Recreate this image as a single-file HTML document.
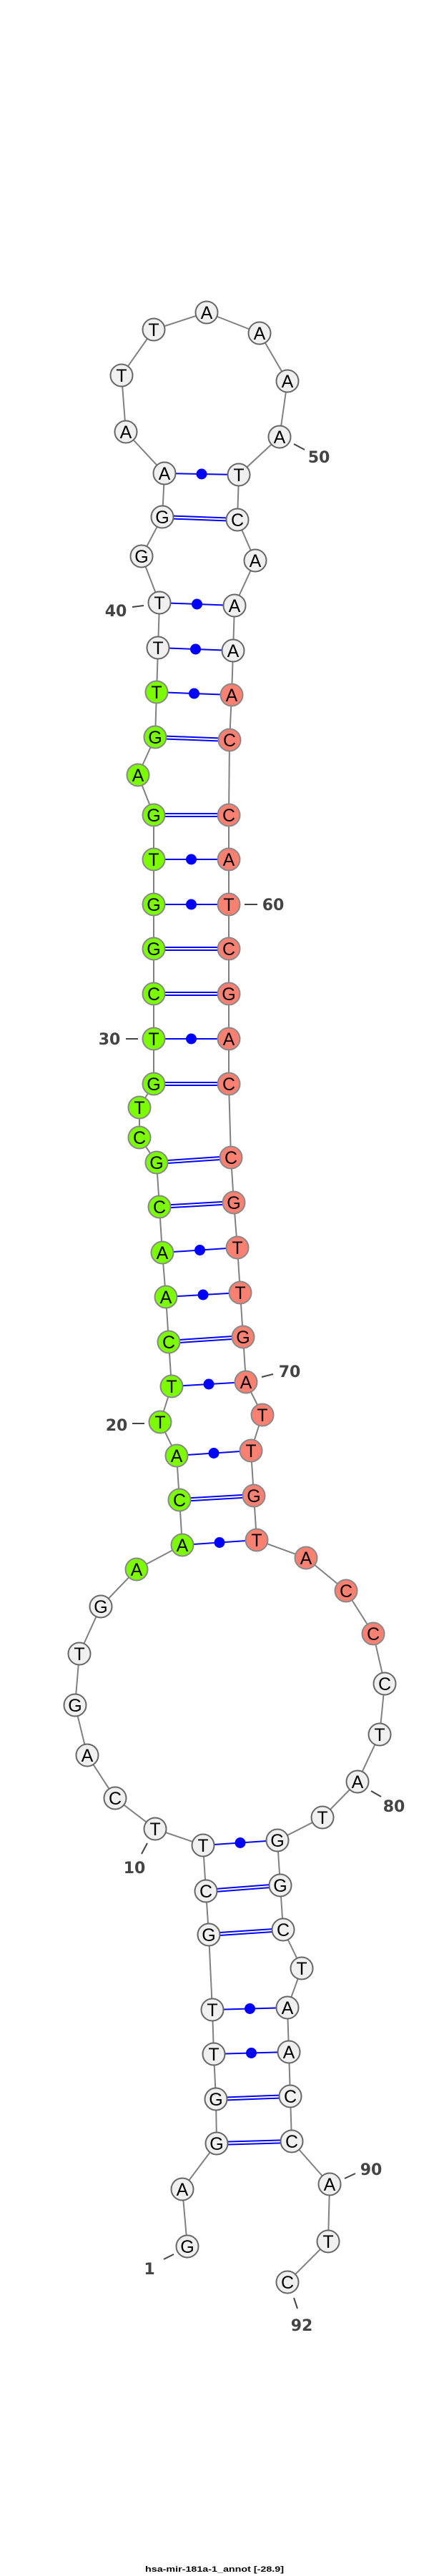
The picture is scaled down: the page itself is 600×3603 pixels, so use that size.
<!DOCTYPE html>
<html><head><meta charset="utf-8"><style>
html,body{margin:0;padding:0;background:#fff;}
svg{display:block;}
.n text{font-family:"Liberation Sans",sans-serif;font-size:25px;text-anchor:middle;fill:#000;}
.lb{font-family:"DejaVu Sans",sans-serif;font-weight:bold;font-size:22px;fill:#444;text-anchor:middle;}
</style></head><body>
<svg width="600" height="3603" viewBox="0 0 600 3603" xmlns="http://www.w3.org/2000/svg">
<polyline fill="none" stroke="#808080" stroke-width="2" points="262,3142 255,3062 303,2998 302,2936 299,2873 297,2811 292,2706 288,2645 284,2581 217,2558 161,2515 122,2455 105,2385 111,2313 141,2247 191,2195 255,2161 251,2098 247,2036 224,1989 240,1939 236,1877 232,1814 227,1752 223,1688 219,1626 195,1591 195,1549 215,1516 215,1453 215,1390 215,1327 215,1265 215,1202 215,1140 193,1084 217,1031 219,968 221,906 223,843 198,778 227,723 230,662 176,604 170,525 215,461 289,437 363,466 402,533 391,611 334,664 332,727 357,784 328,847 326,910 324,972 321,1035 320,1140 320,1202 320,1265 320,1327 320,1390 320,1453 320,1516 323,1619 327,1682 332,1745 336,1808 340,1870 344,1933 367,1979 351,2029 355,2092 359,2154 428,2179 484,2225 522,2285 538,2355 531,2426 500,2492 451,2542 388,2574 392,2637 396,2699 422,2753 402,2808 404,2870 406,2932 408,2995 461,3055 459,3135 402,3192"/>
<g stroke="#0000ff" stroke-width="2" fill="none">
<!-- double (GC) -->
<path d="M303,2996 L408,2993 M303,3000 L408,2997"/>
<path d="M302,2934 L406,2930 M302,2938 L406,2934"/>
<path d="M292,2704 L396,2697 M292,2708 L396,2701"/>
<path d="M288,2643 L392,2635 M288,2647 L392,2639"/>
<path d="M251,2096 L355,2090 M251,2100 L355,2094"/>
<path d="M236,1875 L340,1868 M236,1879 L340,1872"/>
<path d="M223,1686 L327,1680 M223,1690 L327,1684"/>
<path d="M219,1624 L323,1617 M219,1628 L323,1621"/>
<path d="M215,1514 L320,1514 M215,1518 L320,1518"/>
<path d="M215,1388 L320,1388 M215,1392 L320,1392"/>
<path d="M215,1325 L320,1325 M215,1329 L320,1329"/>
<path d="M215,1138 L320,1138 M215,1142 L320,1142"/>
<path d="M217,1029 L321,1033 M217,1033 L321,1037"/>
<path d="M227,721 L332,725 M227,725 L332,729"/>
<!-- single -->
<path d="M299,2873 L404,2870 M297,2811 L402,2808 M284,2581 L388,2574 M255,2161 L359,2154 M247,2036 L351,2029 M240,1939 L344,1933 M232,1814 L336,1808 M227,1752 L332,1745 M215,1453 L320,1453 M215,1265 L320,1265 M215,1202 L320,1202 M219,968 L324,972 M221,906 L326,910 M223,843 L328,847 M230,662 L334,664"/>
</g>
<g fill="#0000ff">
<circle cx="351.5" cy="2871.5" r="7.5"/><circle cx="349.5" cy="2809.5" r="7.5"/><circle cx="336" cy="2577.5" r="7.5"/>
<circle cx="307" cy="2157.5" r="7.5"/><circle cx="299" cy="2032.5" r="7.5"/><circle cx="292" cy="1936" r="7.5"/>
<circle cx="284" cy="1811" r="7.5"/><circle cx="279.5" cy="1748.5" r="7.5"/><circle cx="267.5" cy="1453" r="7.5"/>
<circle cx="267.5" cy="1265" r="7.5"/><circle cx="267.5" cy="1202" r="7.5"/><circle cx="271.5" cy="970" r="7.5"/>
<circle cx="273.5" cy="908" r="7.5"/><circle cx="275.5" cy="845" r="7.5"/><circle cx="282" cy="663" r="7.5"/>
</g>
<g class="n">
<g stroke="#666" stroke-width="2" fill="#f0f0f0">
<circle cx="262" cy="3142" r="15.5"/><circle cx="255" cy="3062" r="15.5"/><circle cx="303" cy="2998" r="15.5"/><circle cx="302" cy="2936" r="15.5"/><circle cx="299" cy="2873" r="15.5"/><circle cx="297" cy="2811" r="15.5"/><circle cx="292" cy="2706" r="15.5"/><circle cx="288" cy="2645" r="15.5"/><circle cx="284" cy="2581" r="15.5"/><circle cx="217" cy="2558" r="15.5"/><circle cx="161" cy="2515" r="15.5"/><circle cx="122" cy="2455" r="15.5"/><circle cx="105" cy="2385" r="15.5"/><circle cx="111" cy="2313" r="15.5"/><circle cx="141" cy="2247" r="15.5"/>
<circle cx="221" cy="906" r="15.5"/><circle cx="223" cy="843" r="15.5"/><circle cx="198" cy="778" r="15.5"/><circle cx="227" cy="723" r="15.5"/><circle cx="230" cy="662" r="15.5"/><circle cx="176" cy="604" r="15.5"/><circle cx="170" cy="525" r="15.5"/><circle cx="215" cy="461" r="15.5"/><circle cx="289" cy="437" r="15.5"/><circle cx="363" cy="466" r="15.5"/><circle cx="402" cy="533" r="15.5"/><circle cx="391" cy="611" r="15.5"/><circle cx="334" cy="664" r="15.5"/><circle cx="332" cy="727" r="15.5"/><circle cx="357" cy="784" r="15.5"/><circle cx="328" cy="847" r="15.5"/><circle cx="326" cy="910" r="15.5"/>
<circle cx="538" cy="2355" r="15.5"/><circle cx="531" cy="2426" r="15.5"/><circle cx="500" cy="2492" r="15.5"/><circle cx="451" cy="2542" r="15.5"/><circle cx="388" cy="2574" r="15.5"/><circle cx="392" cy="2637" r="15.5"/><circle cx="396" cy="2699" r="15.5"/><circle cx="422" cy="2753" r="15.5"/><circle cx="402" cy="2808" r="15.5"/><circle cx="404" cy="2870" r="15.5"/><circle cx="406" cy="2932" r="15.5"/><circle cx="408" cy="2995" r="15.5"/><circle cx="461" cy="3055" r="15.5"/><circle cx="459" cy="3135" r="15.5"/><circle cx="402" cy="3192" r="15.5"/>
</g>
<g stroke="#888" stroke-width="2" fill="#7cfc00">
<circle cx="191" cy="2195" r="15.5"/><circle cx="255" cy="2161" r="15.5"/><circle cx="251" cy="2098" r="15.5"/><circle cx="247" cy="2036" r="15.5"/><circle cx="224" cy="1989" r="15.5"/><circle cx="240" cy="1939" r="15.5"/><circle cx="236" cy="1877" r="15.5"/><circle cx="232" cy="1814" r="15.5"/><circle cx="227" cy="1752" r="15.5"/><circle cx="223" cy="1688" r="15.5"/><circle cx="219" cy="1626" r="15.5"/><circle cx="195" cy="1591" r="15.5"/><circle cx="195" cy="1549" r="15.5"/><circle cx="215" cy="1516" r="15.5"/><circle cx="215" cy="1453" r="15.5"/><circle cx="215" cy="1390" r="15.5"/><circle cx="215" cy="1327" r="15.5"/><circle cx="215" cy="1265" r="15.5"/><circle cx="215" cy="1202" r="15.5"/><circle cx="215" cy="1140" r="15.5"/><circle cx="193" cy="1084" r="15.5"/><circle cx="217" cy="1031" r="15.5"/><circle cx="219" cy="968" r="15.5"/>
</g>
<g stroke="#888" stroke-width="2" fill="#fa8072">
<circle cx="324" cy="972" r="15.5"/><circle cx="321" cy="1035" r="15.5"/><circle cx="320" cy="1140" r="15.5"/><circle cx="320" cy="1202" r="15.5"/><circle cx="320" cy="1265" r="15.5"/><circle cx="320" cy="1327" r="15.5"/><circle cx="320" cy="1390" r="15.5"/><circle cx="320" cy="1453" r="15.5"/><circle cx="320" cy="1516" r="15.5"/><circle cx="323" cy="1619" r="15.5"/><circle cx="327" cy="1682" r="15.5"/><circle cx="332" cy="1745" r="15.5"/><circle cx="336" cy="1808" r="15.5"/><circle cx="340" cy="1870" r="15.5"/><circle cx="344" cy="1933" r="15.5"/><circle cx="367" cy="1979" r="15.5"/><circle cx="351" cy="2029" r="15.5"/><circle cx="355" cy="2092" r="15.5"/><circle cx="359" cy="2154" r="15.5"/><circle cx="428" cy="2179" r="15.5"/><circle cx="484" cy="2225" r="15.5"/><circle cx="522" cy="2285" r="15.5"/>
</g>
<g transform="translate(0,9)">
<text x="262" y="3142">G</text><text x="255" y="3062">A</text><text x="303" y="2998">G</text><text x="302" y="2936">G</text><text x="299" y="2873">T</text><text x="297" y="2811">T</text><text x="292" y="2706">G</text><text x="288" y="2645">C</text><text x="284" y="2581">T</text><text x="217" y="2558">T</text><text x="161" y="2515">C</text><text x="122" y="2455">A</text><text x="105" y="2385">G</text><text x="111" y="2313">T</text><text x="141" y="2247">G</text>
<text x="191" y="2195">A</text><text x="255" y="2161">A</text><text x="251" y="2098">C</text><text x="247" y="2036">A</text><text x="224" y="1989">T</text><text x="240" y="1939">T</text><text x="236" y="1877">C</text><text x="232" y="1814">A</text><text x="227" y="1752">A</text><text x="223" y="1688">C</text><text x="219" y="1626">G</text><text x="195" y="1591">C</text><text x="195" y="1549">T</text><text x="215" y="1516">G</text><text x="215" y="1453">T</text><text x="215" y="1390">C</text><text x="215" y="1327">G</text><text x="215" y="1265">G</text><text x="215" y="1202">T</text><text x="215" y="1140">G</text><text x="193" y="1084">A</text><text x="217" y="1031">G</text><text x="219" y="968">T</text>
<text x="221" y="906">T</text><text x="223" y="843">T</text><text x="198" y="778">G</text><text x="227" y="723">G</text><text x="230" y="662">A</text><text x="176" y="604">A</text><text x="170" y="525">T</text><text x="215" y="461">T</text><text x="289" y="437">A</text><text x="363" y="466">A</text><text x="402" y="533">A</text><text x="391" y="611">A</text><text x="334" y="664">T</text><text x="332" y="727">C</text><text x="357" y="784">A</text><text x="328" y="847">A</text><text x="326" y="910">A</text>
<text x="324" y="972">A</text><text x="321" y="1035">C</text><text x="320" y="1140">C</text><text x="320" y="1202">A</text><text x="320" y="1265">T</text><text x="320" y="1327">C</text><text x="320" y="1390">G</text><text x="320" y="1453">A</text><text x="320" y="1516">C</text><text x="323" y="1619">C</text><text x="327" y="1682">G</text><text x="332" y="1745">T</text><text x="336" y="1808">T</text><text x="340" y="1870">G</text><text x="344" y="1933">A</text><text x="367" y="1979">T</text><text x="351" y="2029">T</text><text x="355" y="2092">G</text><text x="359" y="2154">T</text><text x="428" y="2179">A</text><text x="484" y="2225">C</text><text x="522" y="2285">C</text>
<text x="538" y="2355">C</text><text x="531" y="2426">T</text><text x="500" y="2492">A</text><text x="451" y="2542">T</text><text x="388" y="2574">G</text><text x="392" y="2637">G</text><text x="396" y="2699">C</text><text x="422" y="2753">T</text><text x="402" y="2808">A</text><text x="404" y="2870">A</text><text x="406" y="2932">C</text><text x="408" y="2995">C</text><text x="461" y="3055">A</text><text x="459" y="3135">T</text><text x="402" y="3192">C</text>
</g>
</g>
<g stroke="#444" stroke-width="2">
<line x1="411" y1="621" x2="426" y2="629"/>
<line x1="185" y1="849" x2="201" y2="847"/>
<line x1="342" y1="1265" x2="360" y2="1265"/>
<line x1="176" y1="1453" x2="193" y2="1453"/>
<line x1="366" y1="1926" x2="382" y2="1922"/>
<line x1="185" y1="1991" x2="202" y2="1991"/>
<line x1="198" y1="2593" x2="206" y2="2578"/>
<line x1="519" y1="2505" x2="533" y2="2513"/>
<line x1="482" y1="3047" x2="497" y2="3040"/>
<line x1="229" y1="3160" x2="243" y2="3153"/>
<line x1="411" y1="3214" x2="416" y2="3229"/>
</g>
<g class="lb">
<text x="446" y="647">50</text>
<text x="162" y="862">40</text>
<text x="382" y="1273">60</text>
<text x="153" y="1461">30</text>
<text x="405" y="1926">70</text>
<text x="163" y="2001">20</text>
<text x="188" y="2620">10</text>
<text x="551" y="2534">80</text>
<text x="519" y="3042">90</text>
<text x="209" y="3181">1</text>
<text x="422" y="3260">92</text>
</g>
<text x="203" y="3597" font-family="Liberation Sans, sans-serif" font-weight="bold" font-size="11" fill="#000" textLength="194" lengthAdjust="spacingAndGlyphs">hsa-mir-181a-1_annot [-28.9]</text>
</svg>
</body></html>
